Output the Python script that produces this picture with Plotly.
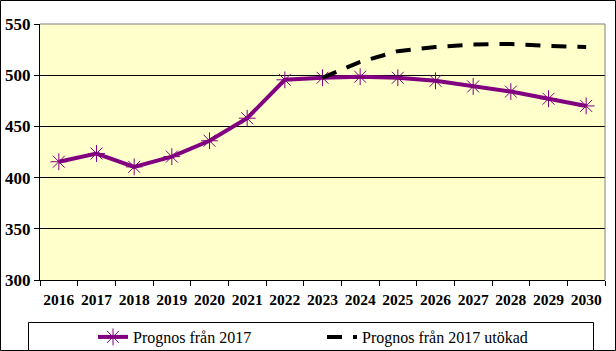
import plotly.graph_objects as go

years = [str(y) for y in range(2016, 2031)]
prognos = [415.5, 423.5, 410.5, 420.5, 436, 458, 495.5, 497.5, 498.5, 497.5, 494.5, 489, 484, 477, 470]
utokad_years = [str(y) for y in range(2023, 2031)]
utokad = [497.5, 513, 523.5, 527.5, 530, 530.5, 528.5, 527.5]

PW, PH, L, T = 565, 256, 40, 24
def px(x):
    return (x - L) / PW
def py(y):
    return (T + PH - y) / PH

SERIF = "Liberation Serif, Times New Roman, serif"

fig = go.Figure()
fig.add_trace(go.Scatter(
    x=years, y=prognos, name="Prognos från 2017", mode="lines+markers",
    line=dict(color="#800080", width=4),
    marker=dict(symbol="asterisk-open", size=14, color="#800080",
                line=dict(color="#800080", width=1)),
))
fig.add_trace(go.Scatter(
    x=utokad_years, y=utokad, name="Prognos från 2017 utökad", mode="lines",
    line=dict(color="black", width=4, dash="15px,11px"),
))

fig.update_layout(
    width=616, height=351,
    margin=dict(l=L, r=616 - L - PW, t=T, b=351 - T - PH, pad=0, autoexpand=False),
    paper_bgcolor="white", plot_bgcolor="#FFFFCC",
    font=dict(family=SERIF, color="black"),
    showlegend=True,
    legend=dict(orientation="h", x=px(93), xanchor="left", y=py(337), yanchor="middle",
                bgcolor="rgba(0,0,0,0)", borderwidth=0,
                font=dict(size=16, family=SERIF),
                entrywidth=184, entrywidthmode="pixels"),
    xaxis=dict(type="category", range=[-0.5, 14.5], showline=True, linecolor="black",
               linewidth=1, ticks="outside", tickson="boundaries", ticklen=5,
               tickcolor="black", showgrid=False, tickangle=0, automargin=False,
               ticklabelstandoff=5,
               tickfont=dict(size=15.5, family=SERIF, color="black", weight="bold")),
    yaxis=dict(range=[300, 550], dtick=50, showline=True, linecolor="black", linewidth=1,
               ticks="outside", ticklen=5, tickcolor="black", showgrid=True,
               gridcolor="black", gridwidth=1, zeroline=False, automargin=False,
               tickfont=dict(size=17, family=SERIF, color="black", weight="bold")),
    shapes=[
        dict(type="line", xref="paper", yref="paper", x0=0, x1=1, y0=1, y1=1,
             line=dict(color="#808080", width=1), layer="above"),
        dict(type="line", xref="paper", yref="paper", x0=1, x1=1, y0=0, y1=1,
             line=dict(color="#808080", width=1), layer="above"),
        dict(type="rect", xref="paper", yref="paper", x0=px(28.5), x1=px(593.5),
             y0=py(350.5), y1=py(322.5), line=dict(color="black", width=1)),
        dict(type="rect", xref="paper", yref="paper", x0=px(0.5), x1=px(615.5),
             y0=py(350.5), y1=py(0.5), line=dict(color="black", width=1)),
    ],
)

fig.write_html("out.html")
